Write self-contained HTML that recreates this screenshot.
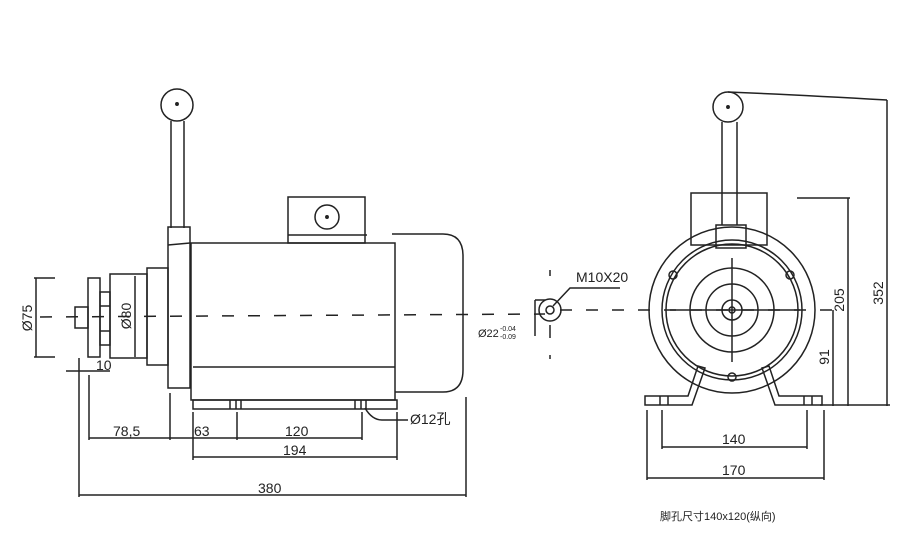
<!DOCTYPE html>
<html><head><meta charset="utf-8"><style>
html,body{margin:0;padding:0;background:#fff;}
svg{display:block}
text{font-family:"Liberation Sans","Noto Sans CJK SC",sans-serif;fill:#222}
</style></head><body>
<svg width="919" height="558" viewBox="0 0 919 558" xmlns="http://www.w3.org/2000/svg">
<rect width="919" height="558" fill="#fff"/>
<g stroke="#222" stroke-width="1.5" fill="none">
<line x1="40" y1="317" x2="545" y2="314" stroke-dasharray="12,14"/>
<line x1="560" y1="310" x2="840" y2="310" stroke-dasharray="12,14"/>
<circle cx="177" cy="105" r="16"/>
<circle cx="177" cy="104" r="1.2" fill="#222"/>
<line x1="171" y1="121" x2="171" y2="228"/><line x1="184" y1="121" x2="184" y2="228"/>
<rect x="168" y="227" width="22" height="161"/>
<line x1="168" y1="245" x2="190" y2="243"/>
<rect x="191" y="243" width="204" height="157"/>
<line x1="193" y1="367" x2="395" y2="367"/>
<rect x="193" y="400" width="204" height="9"/>
<line x1="230" y1="400" x2="230" y2="409"/><line x1="236" y1="400" x2="236" y2="409"/><line x1="241" y1="400" x2="241" y2="409"/>
<line x1="355" y1="400" x2="355" y2="409"/><line x1="361" y1="400" x2="361" y2="409"/><line x1="366" y1="400" x2="366" y2="409"/>
<rect x="288" y="197" width="77" height="46"/>
<line x1="288" y1="235" x2="367" y2="235"/>
<circle cx="327" cy="217" r="12"/><circle cx="327" cy="217" r="1.2" fill="#222"/>
<path d="M392 234 H443 Q463 234 463 256 V370 Q463 392 443 392 H395"/>
<rect x="147" y="268" width="21" height="97"/>
<rect x="110" y="274" width="37" height="84"/>
<rect x="100" y="292" width="10" height="53"/>
<line x1="100" y1="306" x2="110" y2="306"/><line x1="100" y1="331" x2="110" y2="331"/>
<rect x="88" y="278" width="12" height="79"/>
<rect x="75" y="307" width="13" height="21"/>
<line x1="36" y1="278" x2="36" y2="357"/><line x1="34" y1="278" x2="55" y2="278"/><line x1="34" y1="357" x2="55" y2="357"/>
<line x1="135" y1="276" x2="135" y2="357"/>
<line x1="66" y1="371" x2="110" y2="371"/>
<line x1="89" y1="375" x2="89" y2="440"/>
<line x1="170" y1="393" x2="170" y2="440"/>
<line x1="193" y1="412" x2="193" y2="460"/>
<line x1="237" y1="412" x2="237" y2="440"/>
<line x1="362" y1="412" x2="362" y2="440"/>
<line x1="397" y1="412" x2="397" y2="460"/>
<line x1="89" y1="438" x2="362" y2="438"/>
<line x1="193" y1="457" x2="397" y2="457"/>
<line x1="79" y1="358" x2="79" y2="497"/>
<line x1="466" y1="397" x2="466" y2="497"/>
<line x1="79" y1="495" x2="466" y2="495"/>
<path d="M365 408 Q372 420 382 420 H408"/>
<circle cx="550" cy="310" r="11"/><circle cx="550" cy="310" r="4"/>
<line x1="535" y1="300" x2="535" y2="336"/><line x1="535" y1="300" x2="545" y2="300"/>
<line x1="550" y1="270" x2="550" y2="276"/><line x1="550" y1="325" x2="550" y2="338"/><line x1="550" y1="355" x2="550" y2="359"/>
<path d="M553 306 L570 288 H620"/>
<circle cx="728" cy="107" r="15"/><circle cx="728" cy="107" r="1.2" fill="#222"/>
<line x1="722" y1="122" x2="722" y2="225"/><line x1="737" y1="122" x2="737" y2="225"/>
<rect x="691" y="193" width="76" height="52"/>
<rect x="716" y="225" width="30" height="23"/>
<circle cx="732" cy="310" r="83"/>
<circle cx="732" cy="310" r="70"/>
<circle cx="732" cy="310" r="66"/>
<circle cx="732" cy="310" r="42"/>
<circle cx="732" cy="310" r="26"/>
<circle cx="732" cy="310" r="10"/>
<circle cx="732" cy="310" r="3"/>
<line x1="732" y1="258" x2="732" y2="362"/>
<line x1="670" y1="310" x2="800" y2="310"/>
<circle cx="673" cy="275" r="4"/><circle cx="790" cy="275" r="4"/><circle cx="732" cy="377" r="4"/>
<path d="M645 396 H688 L698 366 L705 368 L692 405 H645 Z"/>
<path d="M822 396 H779 L769 366 L762 368 L775 405 H822 Z"/>
<line x1="660" y1="396" x2="660" y2="405"/><line x1="668" y1="396" x2="668" y2="405"/>
<line x1="804" y1="396" x2="804" y2="405"/><line x1="812" y1="396" x2="812" y2="405"/>
<path d="M728 92 Q800 95 887 100"/>
<line x1="887" y1="100" x2="887" y2="406"/>
<line x1="797" y1="198" x2="850" y2="198"/>
<line x1="848" y1="198" x2="848" y2="406"/>
<line x1="833" y1="310" x2="833" y2="406"/>
<line x1="820" y1="405" x2="890" y2="405"/>
<line x1="647" y1="410" x2="647" y2="480"/>
<line x1="824" y1="410" x2="824" y2="480"/>
<line x1="662" y1="410" x2="662" y2="449"/>
<line x1="807" y1="410" x2="807" y2="449"/>
<line x1="662" y1="447" x2="807" y2="447"/>
<line x1="647" y1="478" x2="824" y2="478"/>
</g>
<g font-size="14">
<text x="32" y="318" transform="rotate(-90 32 318)" text-anchor="middle">Ø75</text>
<text x="131" y="316" transform="rotate(-90 131 316)" text-anchor="middle">Ø80</text>
<text x="96" y="370">10</text>
<text x="113" y="436">78,5</text>
<text x="194" y="436">63</text>
<text x="285" y="436">120</text>
<text x="283" y="455">194</text>
<text x="258" y="493">380</text>
<text x="410" y="424">Ø12孔</text>
<text x="576" y="282">M10X20</text>
<text x="478" y="337" font-size="11">Ø22</text>
<text x="500" y="331" font-size="7">-0.04</text>
<text x="500" y="339" font-size="7">-0.09</text>
<text x="844" y="300" transform="rotate(-90 844 300)" text-anchor="middle">205</text>
<text x="829" y="357" transform="rotate(-90 829 357)" text-anchor="middle">91</text>
<text x="883" y="293" transform="rotate(-90 883 293)" text-anchor="middle">352</text>
<text x="722" y="444">140</text>
<text x="722" y="475">170</text>
<text x="660" y="520" font-size="11" font-family="Liberation Serif,'Noto Serif CJK SC',serif">脚孔尺寸140x120(纵向)</text>
</g>
</svg>
</body></html>
